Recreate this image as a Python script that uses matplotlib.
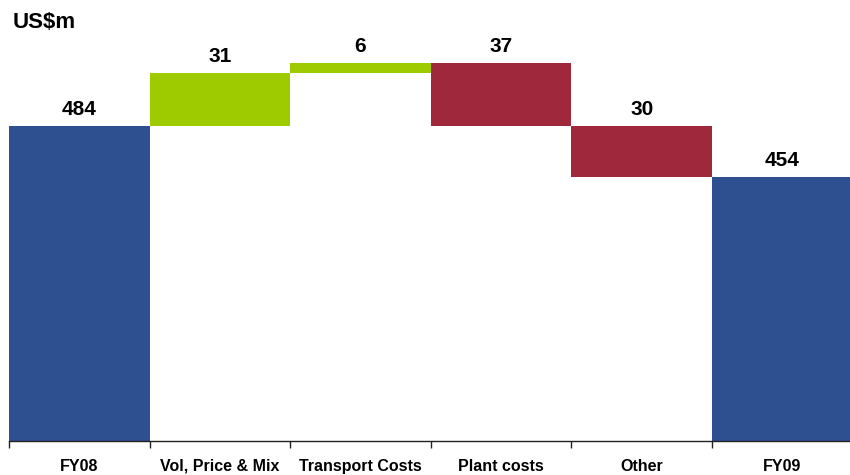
import matplotlib
matplotlib.use("Agg")
import matplotlib.pyplot as plt

plt.rcParams['font.family'] = ['Liberation Sans', 'DejaVu Sans']

# waterfall data (US$m)
categories = ['FY08', 'Vol, Price & Mix', 'Transport Costs', 'Plant costs', 'Other', 'FY09']
changes = [484, 31, 6, -37, -30, 454]
kinds = ['total', 'up', 'up', 'down', 'down', 'total']

colors = {'total': '#2E5090', 'up': '#9ECB00', 'down': '#A0283C'}
y_floor = 300

fig = plt.figure(figsize=(8.5, 4.75), dpi=100)
ax = fig.add_axes([9 / 850, 34.3 / 475, 843.6 / 850, 440.7 / 475])

running = 0
for i, (val, kind) in enumerate(zip(changes, kinds)):
    if kind == 'total':
        bottom, top = y_floor, val
        running = val
    elif val >= 0:
        bottom, top = running, running + val
        running += val
    else:
        bottom, top = running + val, running
        running += val
    ax.bar(i, top - bottom, bottom=bottom, width=1.0, color=colors[kind],
           edgecolor='none', linewidth=0)
    ax.annotate(str(abs(val)), (i, top), xytext=(0, 5), textcoords='offset points',
                ha='center', va='bottom', fontsize=15, fontweight='bold')

ax.set_xlim(-0.5, len(categories) - 0.5)
ax.set_ylim(y_floor, y_floor + 440.7 / 1.71)

ax.set_xticks(range(len(categories)))
ax.set_xticklabels(categories, fontsize=11.5, fontweight='bold')
ax.tick_params(axis='x', which='major', length=0, pad=13)
ax.set_xticks([i - 0.5 for i in range(len(categories))], minor=True)
ax.tick_params(axis='x', which='minor', length=5, width=1, direction='out', color='#222222')
ax.set_yticks([])

for side in ['top', 'right', 'left']:
    ax.spines[side].set_visible(False)
ax.spines['bottom'].set_color('#222222')
ax.spines['bottom'].set_linewidth(1)

fig.text(13 / 850, 1 - 23 / 475, 'US$m', ha='left', va='center',
         fontsize=16, fontweight='bold')

fig.savefig('out.png', dpi=100)
